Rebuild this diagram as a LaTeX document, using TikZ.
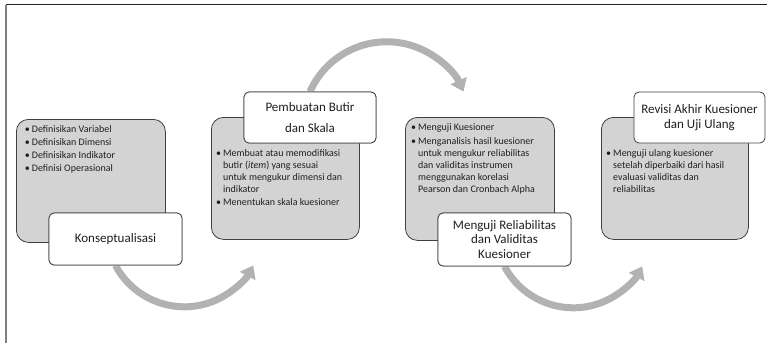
\documentclass[tikz,border=0pt]{standalone}
\usepackage{fontspec}
\setmainfont{Carlito}
\usetikzlibrary{arrows.meta}
\definecolor{boxgray}{HTML}{D3D3D3}
\definecolor{edgec}{HTML}{404040}
\definecolor{arrgray}{HTML}{B2B2B2}
\definecolor{txt}{HTML}{1F1F1F}
\definecolor{framegray}{HTML}{7F7F7F}
\newcommand\itm{\makebox[7pt][l]{\textbullet}}
\newcommand\cnt{\hspace*{7pt}}
\begin{document}
\begin{tikzpicture}[x=1pt,y=-1pt,
  graybox/.style={draw=edgec, fill=boxgray, rounded corners=12pt, line width=0.8pt, inner sep=0pt},
  titlebox/.style={draw=edgec, fill=white, rounded corners=5pt, line width=0.8pt, inner sep=0pt,
    align=center, font=\fontsize{13}{14.5}\selectfont, text=txt},
  bodytext/.style={anchor=base west, inner sep=0pt, font=\fontsize{10}{12}\selectfont, text=txt},
  flow/.style={draw=arrgray, line width=7pt, -{Triangle[width=17pt,length=12pt]}}]
\useasboundingbox (0,0) rectangle (767,343);
% frame
\coordinate (fl) at (6,4.5);
\coordinate (fr) at (767,4.5);
\coordinate (fb) at (6,343);
\draw[line width=1.5pt, black!85] (fl) -- (fr);
\draw[line width=2pt, framegray] (fl) -- (fb);
% gray boxes
\node[graybox, minimum width=149pt, minimum height=123pt, anchor=north west] (g1) at (16,119) {};
\node[graybox, minimum width=148pt, minimum height=122pt, anchor=north west] (g2) at (211,117) {};
\node[graybox, minimum width=149pt, minimum height=123pt, anchor=north west] (g3) at (405,117) {};
\node[graybox, minimum width=147pt, minimum height=122pt, anchor=north west] (g4) at (601,117) {};
% title boxes (positions)
\node[titlebox, minimum width=133pt, minimum height=52pt] (t1) at (115.5,239) {Konseptualisasi};
\node[titlebox, minimum width=132pt, minimum height=51pt] (t2) at (310,117.5) {Pembuatan Butir\\[6pt]dan Skala};
\node[titlebox, minimum width=133pt, minimum height=53pt] (t3) at (504.5,239.5) {Menguji Reliabilitas\\dan Validitas\\Kuesioner};
\node[titlebox, minimum width=131pt, minimum height=51pt] (t4) at (699.5,117.5) {Revisi Akhir Kuesioner\\dan Uji Ulang};
% arrows
\draw[flow] (t1.south) arc[start angle=152, end angle=28, radius=78];
\draw[flow] (t2.north) arc[start angle=204, end angle=336, radius=84];
\draw[flow] (t3.south) arc[start angle=152, end angle=28, radius=78];
% redraw title boxes above arrow starts
\node[titlebox, minimum width=133pt, minimum height=52pt] at (t1) {Konseptualisasi};
\node[titlebox, minimum width=132pt, minimum height=51pt] at (t2) {Pembuatan Butir\\[6pt]dan Skala};
\node[titlebox, minimum width=133pt, minimum height=53pt] at (t3) {Menguji Reliabilitas\\dan Validitas\\Kuesioner};
% body texts
\node[bodytext] (b1) at (24.7,132.5) {\begin{tabular}[t]{@{}l@{}}
\itm Definisikan Variabel\\[1pt]
\itm Definisikan Dimensi\\[1pt]
\itm Definisikan Indikator\\[1pt]
\itm Definisi Operasional
\end{tabular}};
\node[bodytext] (b2) at (216,156.5) {\begin{tabular}[t]{@{}l@{}}
\itm Membuat atau memodifikasi\\
\cnt butir (\textit{item}) yang sesuai\\
\cnt untuk mengukur dimensi dan\\
\cnt indikator\\[1pt]
\itm Menentukan skala kuesioner
\end{tabular}};
\node[bodytext] (b3) at (411,130.5) {\begin{tabular}[t]{@{}l@{}}
\itm Menguji Kuesioner\\[2pt]
\itm Menganalisis hasil kuesioner\\
\cnt untuk mengukur reliabilitas\\
\cnt dan validitas instrumen\\
\cnt menggunakan korelasi\\
\cnt Pearson dan Cronbach Alpha
\end{tabular}};
\node[bodytext] (b4) at (606,156.5) {\begin{tabular}[t]{@{}l@{}}
\itm Menguji ulang kuesioner\\
\cnt setelah diperbaiki dari hasil\\
\cnt evaluasi validitas dan\\
\cnt reliabilitas
\end{tabular}};
\end{tikzpicture}
\end{document}
